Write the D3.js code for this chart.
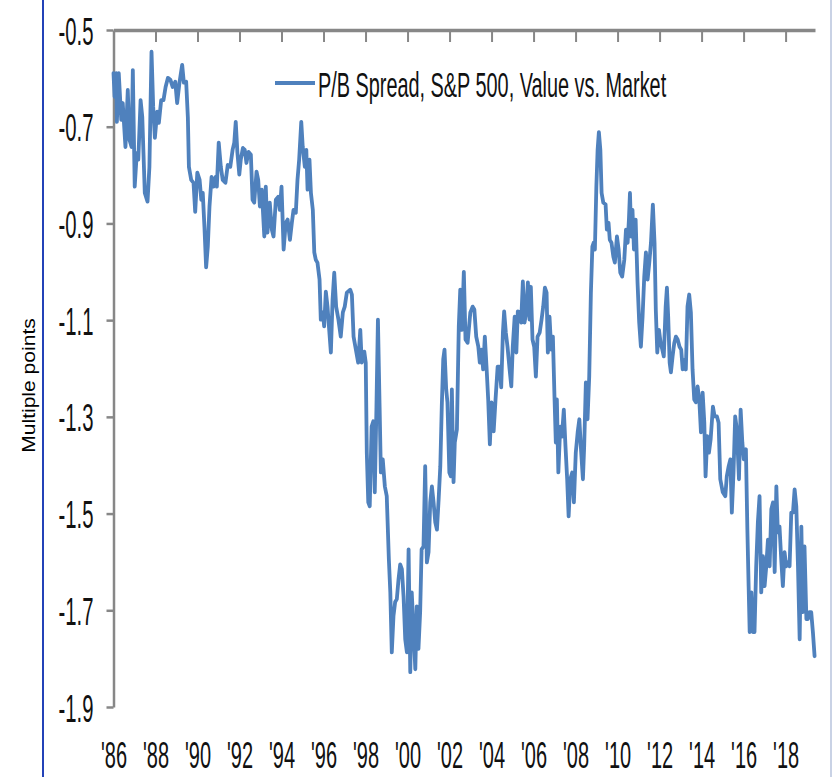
<!DOCTYPE html>
<html>
<head>
<meta charset="utf-8">
<script src="https://cdn.jsdelivr.net/npm/d3@7"></script>
<style>
  html, body { margin: 0; padding: 0; background: #fff; }
  svg { display: block; font-family: "Liberation Sans", Arial, sans-serif; }
</style>
</head>
<body>
<div id="chart"></div>
<script>
// P/B spread, S&P 500 value vs. market (decimal years / multiple points)
const dates86 = [1986.00,1986.05,1986.13,1986.16,1986.25,1986.37,1986.44,1986.57,1986.68,1986.76,1986.86,1986.92,1987.01,1987.11,1987.18,1987.29,1987.37,1987.49,1987.62,1987.71,1987.81,1987.89,1987.97,1988.08,1988.16,1988.27,1988.38,1988.48,1988.59,1988.71,1988.82,1988.94,1989.03,1989.14,1989.27,1989.35,1989.46,1989.54,1989.59,1989.70,1989.81,1989.89,1989.99,1990.10,1990.18,1990.25,1990.33,1990.41,1990.49,1990.57,1990.67,1990.76,1990.86,1990.92,1991.01,1991.11,1991.20,1991.33,1991.44,1991.56,1991.67,1991.75];
const values86 = [-0.589,-0.638,-0.589,-0.690,-0.589,-0.686,-0.651,-0.742,-0.624,-0.727,-0.742,-0.583,-0.824,-0.754,-0.768,-0.645,-0.680,-0.837,-0.855,-0.783,-0.545,-0.659,-0.723,-0.669,-0.692,-0.645,-0.645,-0.618,-0.599,-0.603,-0.618,-0.607,-0.651,-0.609,-0.572,-0.609,-0.607,-0.680,-0.783,-0.810,-0.816,-0.876,-0.795,-0.810,-0.851,-0.837,-0.907,-0.991,-0.948,-0.865,-0.804,-0.824,-0.804,-0.824,-0.733,-0.783,-0.810,-0.816,-0.779,-0.783,-0.748,-0.733];

const dates92 = [1991.82,1991.90,1991.99,1992.06,1992.16,1992.25,1992.33,1992.43,1992.54,1992.62,1992.70,1992.81,1992.89,1992.97,1993.06,1993.18,1993.25,1993.33,1993.44,1993.54,1993.62,1993.73,1993.84,1993.92,1994.00,1994.10,1994.20,1994.29,1994.40,1994.49,1994.57,1994.68,1994.76,1994.84,1994.94,1995.01,1995.11,1995.18,1995.24,1995.33,1995.40,1995.49,1995.56,1995.63,1995.71,1995.81,1995.87,1995.97,1996.03,1996.11,1996.19,1996.27,1996.35,1996.43,1996.51,1996.60,1996.71,1996.82,1996.92,1997.01,1997.11];
const values92 = [-0.690,-0.754,-0.799,-0.768,-0.744,-0.748,-0.775,-0.752,-0.758,-0.851,-0.857,-0.793,-0.810,-0.865,-0.830,-0.927,-0.824,-0.919,-0.857,-0.913,-0.927,-0.851,-0.845,-0.872,-0.824,-0.954,-0.899,-0.892,-0.934,-0.899,-0.872,-0.878,-0.810,-0.768,-0.690,-0.742,-0.783,-0.748,-0.830,-0.768,-0.837,-0.872,-0.960,-0.975,-0.981,-1.016,-1.099,-1.084,-1.113,-1.041,-1.072,-1.120,-1.167,-1.058,-1.002,-1.072,-1.099,-1.134,-1.084,-1.072,-1.043];

const dates97 = [1997.27,1997.35,1997.43,1997.54,1997.65,1997.75,1997.82,1997.94,1998.01,1998.06,1998.13,1998.20,1998.29,1998.37,1998.44,1998.52,1998.59,1998.67,1998.73,1998.82,1998.92,1999.01,1999.11,1999.18,1999.25,1999.33,1999.41,1999.49,1999.57,1999.65,1999.73,1999.81,1999.89,1999.97,2000.05,2000.13,2000.20,2000.29,2000.37,2000.44,2000.52,2000.60,2000.67,2000.76,2000.84,2000.92,2001.00,2001.08,2001.16,2001.24,2001.32,2001.40,2001.48,2001.56,2001.63,2001.70,2001.76,2001.84,2001.90,2001.99,2002.06,2002.11,2002.19,2002.25,2002.35,2002.44,2002.51,2002.59,2002.68,2002.76];
const values97 = [-1.037,-1.047,-1.134,-1.161,-1.188,-1.120,-1.188,-1.165,-1.188,-1.374,-1.477,-1.485,-1.320,-1.309,-1.456,-1.279,-1.099,-1.279,-1.415,-1.388,-1.444,-1.464,-1.594,-1.663,-1.787,-1.712,-1.683,-1.677,-1.636,-1.605,-1.615,-1.671,-1.760,-1.787,-1.574,-1.828,-1.663,-1.745,-1.822,-1.692,-1.780,-1.704,-1.574,-1.568,-1.402,-1.601,-1.580,-1.477,-1.444,-1.477,-1.518,-1.533,-1.471,-1.402,-1.279,-1.181,-1.161,-1.243,-1.270,-1.415,-1.423,-1.243,-1.435,-1.353,-1.326,-1.113,-1.037,-1.120,-1.000,-1.140];

const dates03 = [2002.86,2002.99,2003.10,2003.18,2003.27,2003.37,2003.44,2003.52,2003.60,2003.68,2003.76,2003.84,2003.92,2004.00,2004.10,2004.19,2004.29,2004.38,2004.46,2004.54,2004.60,2004.68,2004.76,2004.86,2004.94,2005.01,2005.10,2005.18,2005.25,2005.33,2005.41,2005.49,2005.57,2005.65,2005.73,2005.81,2005.87,2005.95,2006.03,2006.11,2006.19,2006.29,2006.38,2006.46,2006.54,2006.62,2006.68,2006.76,2006.84,2006.92,2007.00,2007.06,2007.11,2007.18,2007.27,2007.35,2007.44,2007.52,2007.60,2007.67,2007.75,2007.84,2007.92,2008.01,2008.10,2008.18,2008.25,2008.35,2008.41,2008.49,2008.57];
const values03 = [-1.147,-1.084,-1.072,-1.078,-1.134,-1.155,-1.188,-1.161,-1.202,-1.134,-1.196,-1.264,-1.357,-1.270,-1.330,-1.264,-1.196,-1.196,-1.239,-1.126,-1.082,-1.126,-1.155,-1.202,-1.237,-1.155,-1.093,-1.167,-1.082,-1.084,-1.105,-1.020,-1.105,-1.084,-1.022,-1.099,-1.031,-1.140,-1.155,-1.217,-1.134,-1.126,-1.099,-1.072,-1.033,-1.043,-1.167,-1.093,-1.161,-1.134,-1.264,-1.353,-1.264,-1.415,-1.320,-1.341,-1.285,-1.361,-1.429,-1.506,-1.429,-1.415,-1.477,-1.374,-1.332,-1.305,-1.361,-1.429,-1.361,-1.229,-1.305];

const dates08 = [2008.65,2008.73,2008.80,2008.86,2008.92,2008.99,2009.05,2009.11,2009.18,2009.24,2009.32,2009.43,2009.49,2009.57,2009.63,2009.71,2009.80,2009.87,2009.97,2010.05,2010.13,2010.22,2010.32,2010.40,2010.48,2010.54,2010.59,2010.65,2010.71,2010.78,2010.86,2010.95,2011.03,2011.11,2011.19,2011.27,2011.35,2011.43,2011.51,2011.59,2011.68,2011.76,2011.82,2011.89,2011.97,2012.05,2012.13,2012.20,2012.29,2012.35,2012.41,2012.48,2012.54,2012.62,2012.70,2012.78,2012.86,2012.95,2013.03,2013.10,2013.18,2013.25,2013.33,2013.41,2013.49,2013.57,2013.65,2013.73,2013.81,2013.89,2013.97,2014.05,2014.13];
const values08 = [-1.217,-1.043,-0.948,-0.940,-0.954,-0.824,-0.748,-0.711,-0.748,-0.837,-0.857,-0.861,-0.913,-0.899,-0.934,-0.940,-0.969,-0.981,-0.927,-0.954,-1.002,-1.010,-0.975,-0.913,-0.940,-0.892,-0.837,-0.927,-0.872,-0.954,-0.892,-1.022,-1.105,-1.155,-1.093,-1.010,-0.960,-1.016,-0.981,-0.940,-0.861,-0.940,-1.078,-1.167,-1.120,-1.147,-1.161,-1.175,-1.072,-1.033,-1.093,-1.188,-1.208,-1.175,-1.147,-1.134,-1.140,-1.155,-1.161,-1.202,-1.182,-1.202,-1.072,-1.047,-1.084,-1.202,-1.264,-1.270,-1.237,-1.264,-1.332,-1.250,-1.312];

const dates14 = [2014.19,2014.27,2014.35,2014.43,2014.54,2014.62,2014.73,2014.81,2014.89,2015.01,2015.13,2015.20,2015.29,2015.37,2015.44,2015.52,2015.60,2015.68,2015.78,2015.86,2015.94,2016.01,2016.11,2016.18,2016.24,2016.29,2016.37,2016.44,2016.52,2016.60,2016.68,2016.76,2016.84,2016.92,2017.00,2017.08,2017.16,2017.24,2017.32,2017.40,2017.48,2017.56,2017.63,2017.71,2017.80,2017.87,2017.95,2018.03,2018.11,2018.19,2018.27,2018.35,2018.43,2018.51,2018.59,2018.67,2018.75,2018.82,2018.90,2018.99,2019.06,2019.14,2019.22,2019.30,2019.38];
const values14 = [-1.423,-1.340,-1.374,-1.347,-1.279,-1.299,-1.299,-1.312,-1.429,-1.456,-1.464,-1.423,-1.402,-1.388,-1.498,-1.415,-1.299,-1.326,-1.429,-1.285,-1.353,-1.388,-1.367,-1.533,-1.650,-1.745,-1.663,-1.745,-1.745,-1.609,-1.518,-1.464,-1.663,-1.588,-1.650,-1.609,-1.554,-1.609,-1.491,-1.477,-1.621,-1.444,-1.539,-1.527,-1.601,-1.650,-1.580,-1.609,-1.601,-1.609,-1.498,-1.498,-1.450,-1.485,-1.609,-1.760,-1.527,-1.704,-1.568,-1.718,-1.718,-1.704,-1.704,-1.745,-1.795];

const seriesName = 'P/B Spread, S&P 500, Value vs. Market';
const yTicks = [-0.5, -0.7, -0.9, -1.1, -1.3, -1.5, -1.7, -1.9];
const yTickLabels = ['-0.5', '-0.7', '-0.9', '-1.1', '-1.3', '-1.5', '-1.7', '-1.9'];
const xTickYears = [1986, 1988, 1990, 1992, 1994, 1996, 1998, 2000, 2002, 2004, 2006, 2008, 2010, 2012, 2014, 2016, 2018];
const xTickLabels = ["'86", "'88", "'90", "'92", "'94", "'96", "'98", "'00", "'02", "'04", "'06", "'08", "'10", "'12", "'14", "'16", "'18"];
const yTitle = 'Multiple points';

const width = 832;
const height = 777;
const lineColor = '#4f81bd';
const axisColor = '#878787';

const dates = [].concat(dates86, dates92, dates97, dates03, dates08, dates14);
const values = [].concat(values86, values92, values97, values03, values08, values14);
if (dates.length !== values.length) console.warn('dates/values length mismatch', dates.length, values.length);
const data = d3.zip(dates, values);

const svg = d3.select('#chart')
    .append('svg')
    .attr('width', width)
    .attr('height', height);

svg.append('rect')
    .attr('width', width)
    .attr('height', height)
    .attr('fill', '#fff');

// frame edges of the pasted picture
svg.append('line')
    .attr('x1', 43).attr('x2', 43)
    .attr('y1', 0).attr('y2', height)
    .attr('stroke', '#2342b8')
    .attr('stroke-width', 2);

svg.append('line')
    .attr('x1', 831).attr('x2', 831)
    .attr('y1', 0).attr('y2', height)
    .attr('stroke', '#b7c3dc')
    .attr('stroke-width', 1.5);

const x = d3.scaleLinear()
    .domain([1986, 2019.4])
    .range([113.5, 815]);

const y = d3.scaleLinear()
    .domain([-1.9, -0.5])
    .range([707, 30]);

// horizontal axis sits at the top (-0.5), ticks pointing down
const topAxis = svg.append('g')
    .attr('transform', `translate(0,${y(-0.5)})`)
    .call(d3.axisBottom(x)
        .tickValues(xTickYears.slice(1))
        .tickSize(12)
        .tickSizeOuter(0)
        .tickFormat(''));

topAxis.select('.domain')
    .attr('stroke', axisColor)
    .attr('stroke-width', 3.5);
topAxis.selectAll('.tick line')
    .attr('stroke', axisColor)
    .attr('stroke-width', 2);

// vertical axis
const leftAxis = svg.append('g')
    .attr('transform', `translate(${x(1986)},0)`)
    .call(d3.axisLeft(y)
        .tickValues(yTicks)
        .tickSize(7)
        .tickSizeOuter(0)
        .tickFormat((d, i) => yTickLabels[i]));

leftAxis.select('.domain')
    .attr('stroke', axisColor)
    .attr('stroke-width', 2.5);
leftAxis.selectAll('.tick line')
    .attr('stroke', axisColor)
    .attr('stroke-width', 2.5);
leftAxis.selectAll('.tick text')
    .attr('x', 0)
    .attr('dy', null)
    .attr('transform', 'translate(-20,14) scale(0.52,1)')
    .attr('text-anchor', 'end')
    .attr('fill', '#111')
    .style('font-size', '39px')
    .style('font-family', '"Liberation Sans", Arial, sans-serif');

// year labels along the bottom
const bottomLabels = svg.append('g')
    .attr('transform', 'translate(0,768)')
    .call(d3.axisBottom(x)
        .tickValues(xTickYears)
        .tickSize(0)
        .tickFormat((d, i) => xTickLabels[i]));

bottomLabels.select('.domain').remove();
bottomLabels.selectAll('.tick text')
    .attr('y', 0)
    .attr('dy', null)
    .attr('transform', 'scale(0.54,1)')
    .attr('text-anchor', 'middle')
    .attr('fill', '#111')
    .style('font-size', '37px')
    .style('font-family', '"Liberation Sans", Arial, sans-serif');

// y title
svg.append('text')
    .attr('transform', 'translate(35,385.5) rotate(-90) scale(1.17,1)')
    .attr('text-anchor', 'middle')
    .attr('fill', '#000')
    .style('font-size', '18px')
    .text(yTitle);

// the series
const line = d3.line()
    .x(d => x(d[0]))
    .y(d => y(d[1]));

svg.append('path')
    .datum(data)
    .attr('d', line)
    .attr('fill', 'none')
    .attr('stroke', lineColor)
    .attr('stroke-width', 3.8)
    .attr('stroke-linejoin', 'round')
    .attr('stroke-linecap', 'round');

// legend
const legend = svg.append('g')
    .attr('transform', 'translate(275,83)');

legend.append('line')
    .attr('x1', 0).attr('x2', 40)
    .attr('y1', 0).attr('y2', 0)
    .attr('stroke', lineColor)
    .attr('stroke-width', 4);

legend.append('text')
    .attr('transform', 'translate(43,14) scale(0.552,1)')
    .attr('fill', '#111')
    .style('font-size', '36px')
    .text(seriesName);
</script>
</body>
</html>
